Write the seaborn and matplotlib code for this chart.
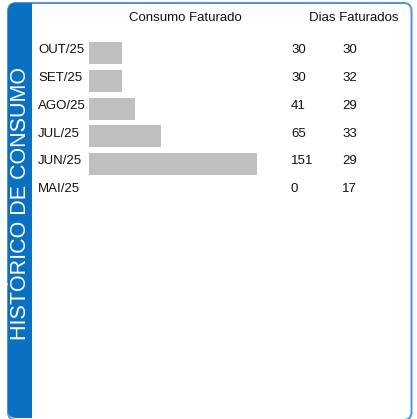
import pandas as pd
import matplotlib
matplotlib.use('Agg')
import matplotlib.pyplot as plt
import matplotlib.transforms as mtransforms
from matplotlib.patches import FancyBboxPatch, Rectangle
import seaborn as sns

# Data
meses = ['OUT/25', 'SET/25', 'AGO/25', 'JUL/25', 'JUN/25', 'MAI/25']
consumo = [30, 30, 41, 65, 151, 0]
dias = [30, 32, 29, 33, 29, 17]

titulo = 'HISTÓRICO DE CONSUMO'
col_consumo = 'Consumo Faturado'
col_dias = 'Dias Faturados'

df = pd.DataFrame({'mes': meses, 'consumo': consumo, 'dias': dias})

sns.set_style('white')
plt.rcParams['font.family'] = ['Liberation Sans', 'DejaVu Sans']

W, H = 417, 419
fig = plt.figure(figsize=(W / 100, H / 100), dpi=100)

# Background axes in pixel units for the frame and header
bg = fig.add_axes([0, 0, 1, 1])
bg.set_xlim(0, W)
bg.set_ylim(H, 0)
bg.axis('off')

frame_color = '#4a94d8'
band_color = '#0a70c2'

bg.add_patch(FancyBboxPatch((8, 3), 403.5, 417, boxstyle='round,pad=0,rounding_size=8',
                            facecolor='white', edgecolor=frame_color, linewidth=1.4))
bg.add_patch(FancyBboxPatch((8, 3), 24, 415, boxstyle='round,pad=0,rounding_size=8',
                            facecolor=band_color, edgecolor='none'))
bg.add_patch(Rectangle((20, 3), 12, 415, facecolor=band_color, edgecolor='none'))

bg.text(20.5, 203, titulo, rotation=90, color='white', fontsize=15.5,
        ha='center', va='center')
bg.text(185, 18, col_consumo, fontsize=9.5, ha='center', va='center', color='#111111')
bg.text(354, 18, col_dias, fontsize=9.5, ha='center', va='center', color='#111111')

# Bar axes: rows every 27.8 px, first row centred at y=53 px
row_h = 27.8
top = 53 - row_h / 2
bottom = top + row_h * len(meses)
left, right = 89, 411
ax = fig.add_axes([left / W, (H - bottom) / H, (right - left) / W, (bottom - top) / H])
sns.barplot(data=df, x='consumo', y='mes', orient='h', color='#bfbfbf',
            saturation=1, width=0.79, linewidth=0, ax=ax)
px_per_unit = 168 / 151
ax.set_xlim(0, (right - left) / px_per_unit)
ax.set_ylim(len(meses) - 0.5, -0.5)
ax.axis('off')

trans = mtransforms.blended_transform_factory(bg.transData, ax.transData)
for i, row in df.iterrows():
    y = i - 0.1
    ax.text(38, y, row['mes'], transform=trans, fontsize=9.5, ha='left', va='center', color='#111111')
    ax.text(291, y, str(row['consumo']), transform=trans, fontsize=9.5, ha='left', va='center', color='#111111')
    ax.text(342, y, str(row['dias']), transform=trans, fontsize=9.5, ha='left', va='center', color='#111111')

fig.savefig('out.png', dpi=100)
